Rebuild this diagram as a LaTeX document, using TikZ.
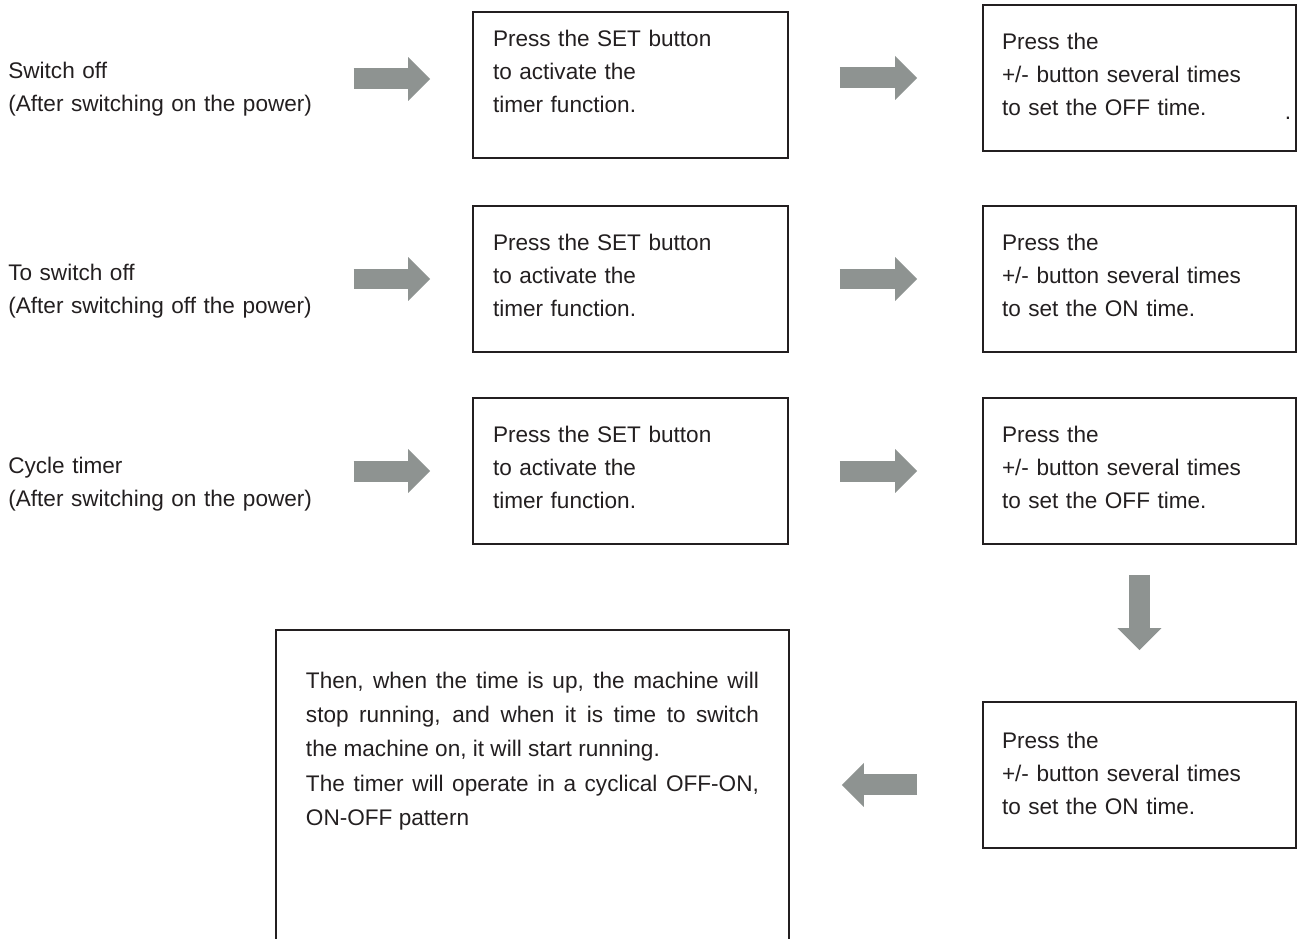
\documentclass[tikz,border=0pt]{standalone}
\usepackage{fontspec}
\setmainfont{Liberation Sans}
\usepackage{tikz}
\usetikzlibrary{arrows.meta}

\definecolor{boxline}{HTML}{231F20}
\definecolor{arrowgray}{HTML}{8E9391}

\begin{document}
\begin{tikzpicture}
      [x=0.02cm,y=-0.02cm,
       font=\fontsize{12.85pt}{18.8pt}\selectfont,text=boxline,
       step label/.style={anchor=base west,inner sep=0pt,text width=6.2cm,align=left},
       step box/.style={draw=boxline,line width=.05cm,anchor=north west,outer sep=0pt,
                        inner xsep=.4cm,inner ysep=0pt,text width=5.5cm,align=left,
                        text height=.88cm,text depth=2.04cm},
       note box/.style={draw=boxline,line width=.05cm,anchor=north west,outer sep=0pt,
                        inner xsep=.6cm,inner ysep=0pt,text width=9.06cm,align=justify,
                        text height=1.16cm,text depth=5.04cm,
                        font=\fontsize{12.85pt}{19.6pt}\selectfont},
       flow/.style={draw=arrowgray,line width=.42cm,
                    -{Triangle[width=.88cm,length=.44cm,line width=0pt]}}]
        \useasboundingbox (0,0) rectangle (1297,938);

        \node[step label] (lbl1) at (8,78) {Switch off\\(After switching on the power)};
        \node[step label] (lbl2) at (8,280) {To switch off\\(After switching off the power)};
        \node[step label] (lbl3) at (8,473) {Cycle timer\\(After switching on the power)};

        \node[step box,text height=.68cm,text depth=2.24cm] (a1) at (473,12) {Press the SET button\\to activate the\\timer function.};
        \node[step box] (a2) at (473,206) {Press the SET button\\to activate the\\timer function.};
        \node[step box] (a3) at (473,398) {Press the SET button\\to activate the\\timer function.};

        \node[step box,inner xsep=.38cm] (b1) at (983,5) {Press the\\+/- button several times\\to set the OFF time.\hfill\rlap{\hspace{.16cm}\raisebox{-.08cm}{.}}};
        \node[step box,inner xsep=.38cm] (b2) at (983,206) {Press the\\+/- button several times\\to set the ON time.};
        \node[step box,inner xsep=.38cm] (b3) at (983,398) {Press the\\+/- button several times\\to set the OFF time.};
        \node[step box,inner xsep=.38cm,text height=.92cm,text depth=2.0cm] (b4) at (983,702) {Press the\\+/- button several times\\to set the ON time.};

        \node[note box] (note) at (276,630) {Then, when the time is up, the machine will\linebreak
          stop running, and when it is time to switch\linebreak
          the machine on, it will start running.\newline
          The timer will operate in a cyclical OFF-ON,\linebreak
          ON-OFF pattern};


        \draw[flow,shorten <=.70cm,shorten >=.86cm] ([yshift=.12cm]lbl1.east |- a1.west) -- ([yshift=.12cm]a1.west);
        \draw[flow,shorten <=.70cm,shorten >=.86cm] (lbl2.east |- a2.west) -- (a2.west);
        \draw[flow,shorten <=.70cm,shorten >=.86cm] (lbl3.east |- a3.west) -- (a3.west);

        \draw[flow,shorten <=1.04cm,shorten >=1.32cm] (a1.east |- b1.west) -- (b1.west);
        \draw[flow,shorten <=1.04cm,shorten >=1.32cm] (a2.east |- b2.west) -- (b2.west);
        \draw[flow,shorten <=1.04cm,shorten >=1.32cm] (a3.east |- b3.west) -- (b3.west);

        \draw[flow,shorten <=.62cm,shorten >=1.04cm] (b3.south) -- (b4.north);
        \draw[flow,shorten <=1.32cm,shorten >=1.06cm] (b4.west |- note.east) -- (note.east);

      \end{tikzpicture}
\end{document}
